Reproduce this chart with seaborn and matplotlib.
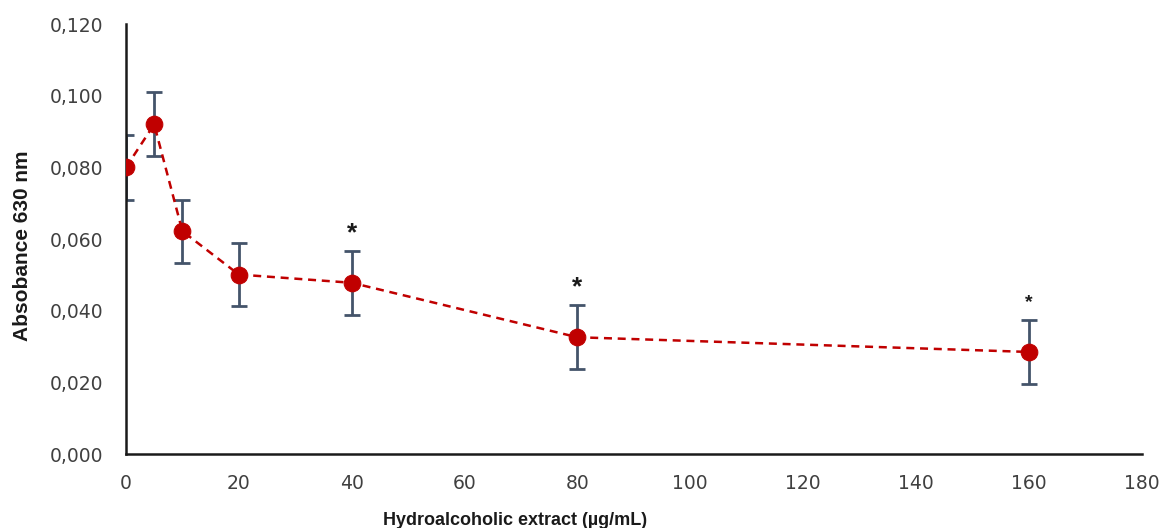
import matplotlib
matplotlib.use("Agg")
import matplotlib.pyplot as plt
import seaborn as sns
import pandas as pd

# Data
concentration = [0, 5, 10, 20, 40, 80, 160]
absorbance = [0.0800, 0.0920, 0.0622, 0.0501, 0.0478, 0.0326, 0.0285]
sd = [0.0090, 0.0089, 0.0088, 0.0088, 0.0089, 0.0089, 0.0089]
significant = [False, False, False, False, True, True, True]
star_size = [0, 0, 0, 0, 19, 19, 14]

x_ticks = [0, 20, 40, 60, 80, 100, 120, 140, 160, 180]
y_ticks = [0.0, 0.02, 0.04, 0.06, 0.08, 0.10, 0.12]

df = pd.DataFrame({"conc": concentration, "abs": absorbance, "sd": sd})

sns.set_style("white")
plt.rcParams['font.family'] = ['Liberation Sans', 'DejaVu Sans']

fig = plt.figure(figsize=(11.62, 5.28), dpi=100)
ax = fig.add_axes([0.1084, 0.140, 0.874, 0.8145])

red = "#C00000"
err_col = "#44546A"

ax.errorbar(df["conc"], df["abs"], yerr=df["sd"], fmt="none", ecolor=err_col,
            elinewidth=2.0, capsize=6, capthick=2.0, zorder=2)
sns.lineplot(data=df, x="conc", y="abs", ax=ax, color=red, linestyle=(0, (3.2, 2.3)),
             linewidth=1.8, marker="o", markersize=12, markeredgecolor=red,
             markerfacecolor=red, zorder=3)

for xv, yv, s, sig, fs in zip(concentration, absorbance, sd, significant, star_size):
    if sig:
        ax.text(xv, yv + s + 0.0050, "*", ha="center", va="center",
                fontsize=fs, fontweight="bold", color="#1a1a1a")

ax.set_xlim(0, 180)
ax.set_ylim(0, 0.12)
ax.set_xticks(x_ticks)
ax.set_yticks(y_ticks)
ax.set_xticklabels([str(t) for t in x_ticks], family="DejaVu Sans")
ax.set_yticklabels([f"{t:.3f}".replace(".", ",") for t in y_ticks], family="DejaVu Sans")
ax.tick_params(axis="both", length=0, labelsize=13.5, colors="#404040")
ax.tick_params(axis="y", pad=16)
ax.tick_params(axis="x", pad=14)

for side in ["top", "right"]:
    ax.spines[side].set_visible(False)
for side in ["left", "bottom"]:
    ax.spines[side].set_color("#1a1a1a")
    ax.spines[side].set_linewidth(1.8)

ax.set_xlabel("Hydroalcoholic extract (µg/mL)", fontsize=13, fontweight="bold", color="#1a1a1a")
ax.xaxis.set_label_coords(0.383, -0.135)
ax.set_ylabel("Absobance 630 nm", fontsize=15, fontweight="bold", color="#1a1a1a")
ax.yaxis.set_label_coords(-0.093, 0.485)

fig.savefig("out.png", dpi=100)
